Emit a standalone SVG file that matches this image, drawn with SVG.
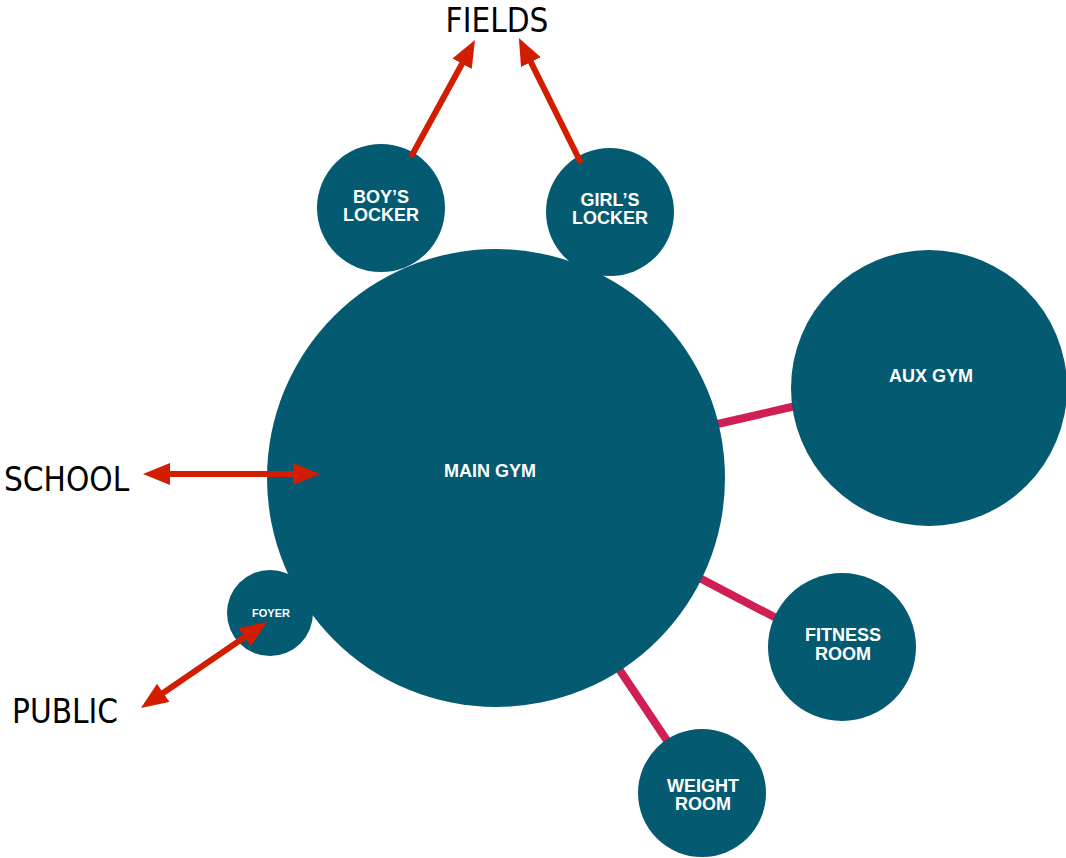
<svg xmlns="http://www.w3.org/2000/svg" width="1066" height="858" viewBox="0 0 1066 858">
<style>
.node{fill:#035a71}
.lbl{font-family:"Liberation Sans",Arial,sans-serif;font-weight:bold;fill:#fff;text-anchor:middle;font-size:18px}
.ext{font-family:"DejaVu Sans Condensed","DejaVu Sans","Liberation Sans",sans-serif;font-stretch:condensed;fill:#000;font-size:33px}
.link{stroke:#d01f55;stroke-width:8;fill:none}
.arr{stroke:#d11d00;stroke-width:6;fill:none}
</style>
<defs>
<marker id="ah" markerUnits="userSpaceOnUse" markerWidth="30" markerHeight="24" refX="2" refY="11" orient="auto-start-reverse">
<path d="M0,0 L27,11 L0,22 z" fill="#d11d00"/>
</marker>
</defs>
<rect width="1066" height="858" fill="#fff"/>
<g id="connectors">
<line class="link" x1="700" y1="428" x2="800" y2="405"/>
<line class="link" x1="690" y1="573" x2="780" y2="620"/>
<line class="link" x1="615" y1="663" x2="670" y2="745"/>
</g>
<g id="boys-locker"><circle class="node" cx="381" cy="208" r="64"/><text class="lbl" x="381" y="203">BOY’S</text><text class="lbl" x="381" y="221">LOCKER</text></g>
<g id="girls-locker"><circle class="node" cx="610" cy="212" r="64"/><text class="lbl" x="610" y="206">GIRL’S</text><text class="lbl" x="610" y="224">LOCKER</text></g>
<g id="main-gym"><circle class="node" cx="496" cy="478" r="229"/><text class="lbl" x="490" y="477">MAIN GYM</text></g>
<g id="aux-gym"><circle class="node" cx="929" cy="388" r="138"/><text class="lbl" x="931" y="382">AUX GYM</text></g>
<g id="fitness-room"><circle class="node" cx="842" cy="647" r="74"/><text class="lbl" x="843" y="641">FITNESS</text><text class="lbl" x="843" y="660">ROOM</text></g>
<g id="weight-room"><circle class="node" cx="702" cy="793" r="64"/><text class="lbl" x="703" y="792">WEIGHT</text><text class="lbl" x="703" y="810">ROOM</text></g>
<g id="foyer"><circle class="node" cx="270" cy="613" r="43"/><text class="lbl" x="271" y="617" style="font-size:11px">FOYER</text></g>
<g id="arrows">
<line class="arr" x1="411" y1="157" x2="463" y2="62" marker-end="url(#ah)"/>
<line class="arr" x1="581" y1="163" x2="530" y2="60.4" marker-end="url(#ah)"/>
<line class="arr" x1="168" y1="474" x2="295" y2="474" marker-start="url(#ah)" marker-end="url(#ah)"/>
<line class="arr" x1="161.6" y1="693.9" x2="246.3" y2="636.1" marker-start="url(#ah)" marker-end="url(#ah)"/>
</g>
<g id="fields"><text class="ext" x="497" y="32" text-anchor="middle">FIELDS</text></g>
<g id="school"><text class="ext" x="4" y="491">SCHOOL</text></g>
<g id="public"><text class="ext" x="12" y="723">PUBLIC</text></g>
</svg>
